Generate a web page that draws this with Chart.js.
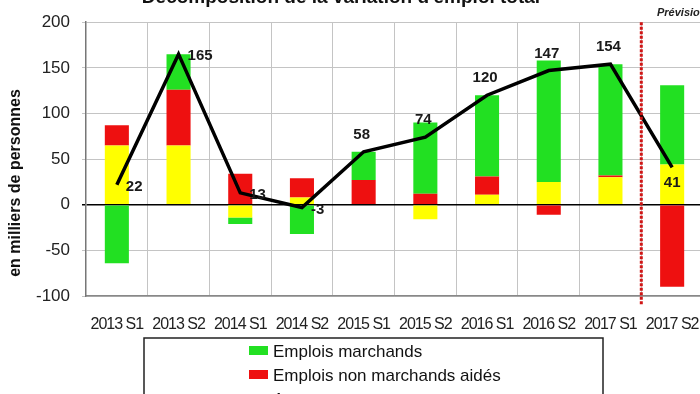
<!DOCTYPE html>
<html>
<head>
<meta charset="utf-8">
<script src="https://cdn.jsdelivr.net/npm/chart.js@4"></script>
<style>
  html, body { margin: 0; padding: 0; background: #fff; overflow: hidden; }
  #wrap { width: 730px; height: 394px; }
</style>
</head>
<body>
<div id="wrap"><canvas id="chart" width="730" height="394"></canvas></div>
<script>
// --- données (milliers de personnes) ---
const periods = ['2013 S1', '2013 S2', '2014 S1', '2014 S2', '2015 S1', '2015 S2', '2016 S1', '2016 S2', '2017 S1', '2017 S2'];
const autres = [65, 65, -14, 8, 0, -16, 11, 25, 30, 44];
const nonMarchands = [22, 61, 34, 21, 27, 12, 20, -11, 2, -90];
const marchands = [-64, 39, -7, -32, 31, 78, 89, 133, 122, 87];
const total = [22, 165, 13, -3, 58, 74, 120, 147, 154, 41];
const labelPos = ['right', 'right', 'right', 'right', 'above', 'above', 'above', 'above', 'above', 'below'];
const yTicks = [-100, -50, 0, 50, 100, 150, 200];

const titleText = "Décomposition de la variation d'emploi total";
const yTitle = 'en milliers de personnes';
const forecastText = 'Prévisions';
const forecastFrom = 9; // index de la première période prévue

const sans = '"Liberation Sans", Arial, sans-serif';

// libellés de l'axe x resserrés (police étroite dans l'original)
const narrowPlugin = {
    id: 'narrow',
    afterLayout(chart) {
        const s = chart.scales.x;
        if (s._narrowed) return;
        const orig = s.drawLabels;
        s.drawLabels = function (area) {
            const ctx = this.ctx;
            ctx.save();
            ctx.letterSpacing = '-1px';
            orig.call(this, area);
            ctx.restore();
        };
        s._narrowed = true;
    }
};

// titre, trait pointillé rouge, étiquettes de la courbe, légende encadrée
const decorPlugin = {
    id: 'decor',
    afterDatasetsDraw(chart) {
        const ctx = chart.ctx;
        const area = chart.chartArea;
        const x = chart.scales.x;

        // valeurs sur la courbe
        const meta = chart.getDatasetMeta(3);
        ctx.save();
        ctx.fillStyle = '#1a1a1a';
        ctx.font = 'bold 15px ' + sans;
        ctx.textBaseline = 'middle';
        meta.data.forEach((pt, i) => {
            const pos = labelPos[i];
            if (pos === 'right') {
                ctx.textAlign = 'left';
                ctx.fillText(total[i], pt.x + 9, pt.y + 2);
            } else if (pos === 'above') {
                ctx.textAlign = 'center';
                ctx.fillText(total[i], pt.x - 2, pt.y - 17);
            } else {
                ctx.textAlign = 'center';
                ctx.fillText(total[i], pt.x, pt.y + 16);
            }
        });
        ctx.restore();

        // séparation prévisions
        const xs = (x.getPixelForValue(forecastFrom - 1) + x.getPixelForValue(forecastFrom)) / 2;
        ctx.save();
        ctx.strokeStyle = '#d01515';
        ctx.lineWidth = 3;
        ctx.setLineDash([3, 1.5]);
        ctx.beginPath();
        ctx.moveTo(xs, area.top);
        ctx.lineTo(xs, area.bottom + 9);
        ctx.stroke();
        ctx.restore();
    },
    afterDraw(chart) {
        const ctx = chart.ctx;
        ctx.save();
        ctx.fillStyle = '#111';
        ctx.textAlign = 'center';
        ctx.textBaseline = 'alphabetic';
        ctx.font = 'bold 19px ' + sans;
        ctx.fillText(titleText, 341, 3);

        // titre de l'axe vertical
        ctx.save();
        ctx.translate(20, 183);
        ctx.rotate(-Math.PI / 2);
        ctx.font = 'bold 16px ' + sans;
        ctx.fillText(yTitle, 0, 0);
        ctx.restore();

        ctx.textAlign = 'left';
        ctx.font = 'italic bold 11px ' + sans;
        ctx.fillStyle = '#222';
        ctx.fillText(forecastText, 657, 16);

        // légende
        ctx.strokeStyle = '#222';
        ctx.lineWidth = 1.5;
        ctx.strokeRect(144, 338, 459, 70);
        const items = [chart.data.datasets[2], chart.data.datasets[1], chart.data.datasets[0]];
        ctx.font = '17px ' + sans;
        items.forEach((ds, i) => {
            const yBase = 357 + i * 24;
            ctx.fillStyle = ds.backgroundColor;
            ctx.fillRect(249, yBase - 11, 19, 9);
            ctx.fillStyle = '#111';
            ctx.fillText(ds.label, 273, yBase);
        });
        ctx.restore();
    }
};

new Chart(document.getElementById('chart'), {
    data: {
        labels: periods,
        datasets: [
            { type: 'bar', label: 'Autres', data: autres, backgroundColor: '#ffff00', stack: 'parts', order: 1 },
            { type: 'bar', label: 'Emplois non marchands aidés', data: nonMarchands, backgroundColor: '#ee1010', stack: 'parts', order: 1 },
            { type: 'bar', label: 'Emplois marchands', data: marchands, backgroundColor: '#22e022', stack: 'parts', order: 1 },
            { type: 'line', label: 'Total', data: total, borderColor: '#000', borderWidth: 3.5, pointRadius: 0, tension: 0, stack: 'total', order: 0 }
        ]
    },
    options: {
        responsive: false,
        animation: false,
        barPercentage: 0.39,
        categoryPercentage: 1,
        layout: { padding: { top: 21, right: 27, left: 0, bottom: 0 } },
        plugins: {
            legend: { display: false },
            tooltip: { enabled: false }
        },
        scales: {
            x: {
                stacked: true,
                afterFit: (s) => { s.height = 98; },
                grid: { offset: true, color: '#c4c4c4', lineWidth: 1, drawTicks: false },
                border: { color: '#888', width: 1.5 },
                ticks: { color: '#222', padding: 19, maxRotation: 0, autoSkip: false, font: { size: 16, family: sans } }
            },
            y: {
                stacked: true,
                min: -100,
                max: 200,
                afterBuildTicks: (s) => { s.ticks = yTicks.map(v => ({ value: v })); },
                afterFit: (s) => { s.width = 86; },
                grid: {
                    color: (c) => c.tick && c.tick.value === 0 ? '#000' : '#c4c4c4',
                    lineWidth: (c) => c.tick && c.tick.value === 0 ? 1.5 : 1,
                    tickLength: 4
                },
                border: { color: '#777', width: 1.5 },
                ticks: { color: '#222', padding: 12, font: { size: 17, family: sans } }
            }
        }
    },
    plugins: [narrowPlugin, decorPlugin]
});
</script>
</body>
</html>
